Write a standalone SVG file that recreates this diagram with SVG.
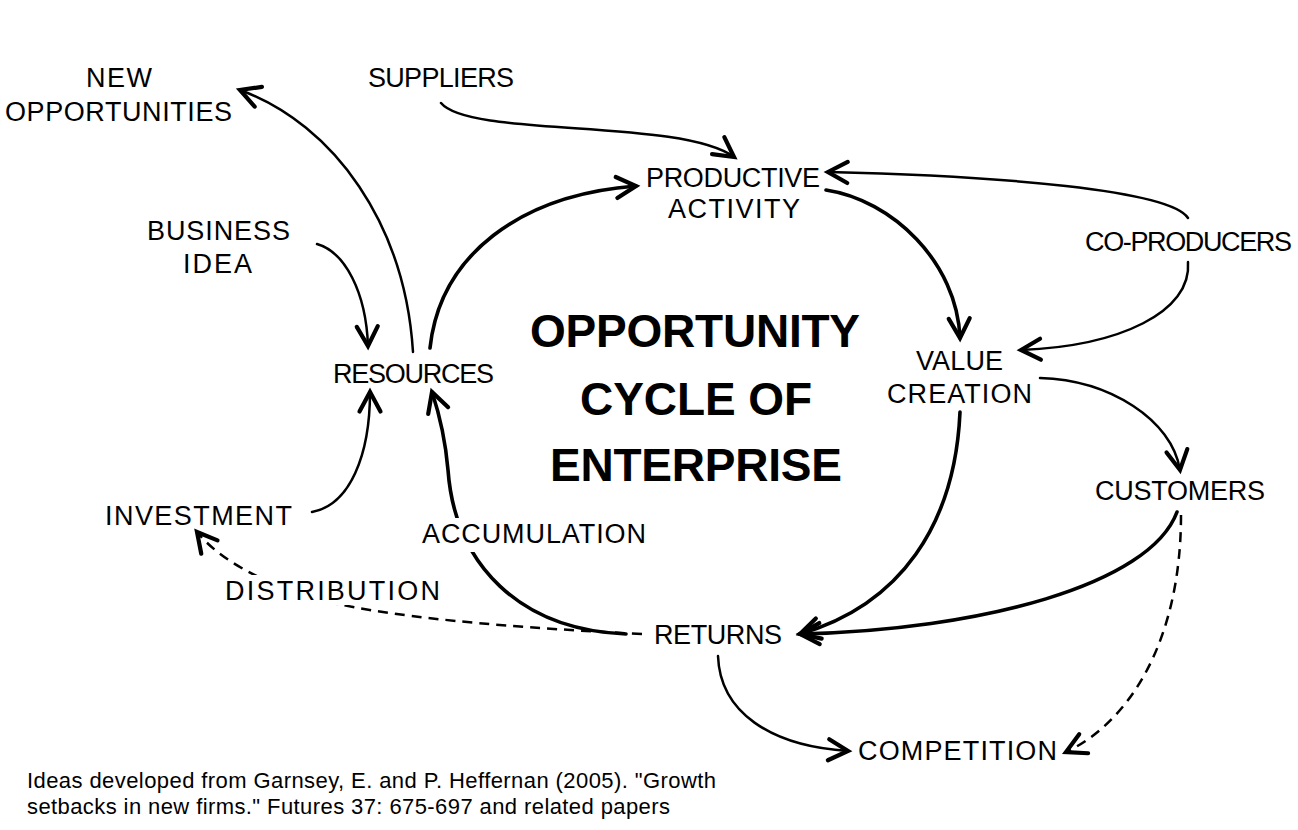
<svg xmlns="http://www.w3.org/2000/svg" width="1298" height="830" viewBox="0 0 1298 830">
<style>
.lbl{font-family:"Liberation Sans","DejaVu Sans",sans-serif;font-size:27px;fill:#000;text-anchor:middle}
.title{font-family:"Liberation Sans",Arial,sans-serif;font-size:46px;font-weight:bold;fill:#000;text-anchor:middle}
.foot{font-family:"Liberation Sans",Arial,sans-serif;font-size:22px;fill:#000}
.c{fill:none;stroke:#000;stroke-width:2.5;stroke-linecap:round}
.thick{stroke-width:3.6}
.dash{stroke-dasharray:10 7;stroke-linecap:butt}
.bg{fill:#fff}
</style>
<defs>
<marker id="ah" markerUnits="userSpaceOnUse" markerWidth="30" markerHeight="30" viewBox="-16 -10 20 20" refX="0" refY="0" orient="auto">
<path d="M-13,-7 L0,0 L-13,7" fill="none" stroke="#000" stroke-width="2.8" stroke-linecap="round" stroke-linejoin="miter" stroke-dasharray="none"/>
</marker>
</defs>
<rect width="1298" height="830" fill="#fff"/>
<g id="connectors">
<path class="c" d="M413,352 C405,225 335,125 240,90" marker-end="url(#ah)"/>
<path class="c" d="M317,244 C345,252 366,292 368,346" marker-end="url(#ah)"/>
<path class="c" d="M312,512 C350,505 370,455 370,392" marker-end="url(#ah)"/>
<path class="c thick" d="M430,348 C440,255 520,195 636,186" marker-end="url(#ah)"/>
<path class="c thick" d="M626,634 C520,630 455,565 448,470 C445,435 438,410 432,392" marker-end="url(#ah)"/>
<path class="c" d="M441,103 C470,138 680,118 734,157" marker-end="url(#ah)"/>
<path class="c thick" d="M826,190 C892,200 957,262 960,338" marker-end="url(#ah)"/>
<path class="c" d="M1188,218 C1170,190 1000,176 828,172" marker-end="url(#ah)"/>
<path class="c" d="M1188,262 C1192,312 1120,346 1021,350" marker-end="url(#ah)"/>
<path class="c" d="M1040,378 C1110,380 1172,420 1180,470" marker-end="url(#ah)"/>
<path class="c thick" d="M960,412 C955,525 900,605 800,634" marker-end="url(#ah)"/>
<path class="c thick" d="M1177,512 C1150,585 980,630 800,634" marker-end="url(#ah)"/>
<path class="c dash" d="M1181,515 C1181,640 1130,722 1066,752" marker-end="url(#ah)"/>
<path class="c" d="M718,656 C720,712 770,746 848,751" marker-end="url(#ah)"/>
<path class="c dash" d="M642,634 C480,626 360,614 300,594 C258,579 220,560 197,532" marker-end="url(#ah)"/>
</g>
<g id="new-opportunities"><text class="lbl" x="119" y="87" textLength="66">NEW</text><text class="lbl" x="118.5" y="121" textLength="227">OPPORTUNITIES</text></g>
<g id="suppliers"><text class="lbl" x="441" y="87" textLength="146">SUPPLIERS</text></g>
<g id="productive-activity"><text class="lbl" x="733" y="187" textLength="174">PRODUCTIVE</text><text class="lbl" x="734" y="218" textLength="132">ACTIVITY</text></g>
<g id="business-idea"><text class="lbl" x="218.5" y="240" textLength="143">BUSINESS</text><text class="lbl" x="217.5" y="273" textLength="69">IDEA</text></g>
<g id="co-producers"><text class="lbl" x="1188.5" y="251" textLength="207">CO-PRODUCERS</text></g>
<g id="title"><text class="title" x="695" y="347" textLength="330">OPPORTUNITY</text><text class="title" x="696" y="415" textLength="232">CYCLE OF</text><text class="title" x="696" y="481" textLength="292">ENTERPRISE</text></g>
<g id="value-creation"><text class="lbl" x="959.5" y="370" textLength="87">VALUE</text><text class="lbl" x="959.5" y="403" textLength="145">CREATION</text></g>
<g id="resources"><text class="lbl" x="413.5" y="383" textLength="161">RESOURCES</text></g>
<g id="investment"><text class="lbl" x="198.5" y="525" textLength="187">INVESTMENT</text></g>
<g id="accumulation"><rect class="bg" x="418" y="518" width="232" height="34"/><text class="lbl" x="534" y="543" textLength="224">ACCUMULATION</text></g>
<g id="distribution"><rect class="bg" x="221" y="575" width="223" height="30"/><text class="lbl" x="332.5" y="600" textLength="215">DISTRIBUTION</text></g>
<g id="customers"><text class="lbl" x="1180" y="500" textLength="170">CUSTOMERS</text></g>
<g id="returns"><text class="lbl" x="718" y="644" textLength="128">RETURNS</text></g>
<g id="competition"><text class="lbl" x="957.5" y="760" textLength="199">COMPETITION</text></g>
<g id="footer"><text class="foot" x="27" y="788" textLength="689">Ideas developed from Garnsey, E. and P. Heffernan (2005). "Growth</text><text class="foot" x="27" y="814" textLength="643">setbacks in new firms." Futures 37: 675-697 and related papers</text></g>
</svg>
